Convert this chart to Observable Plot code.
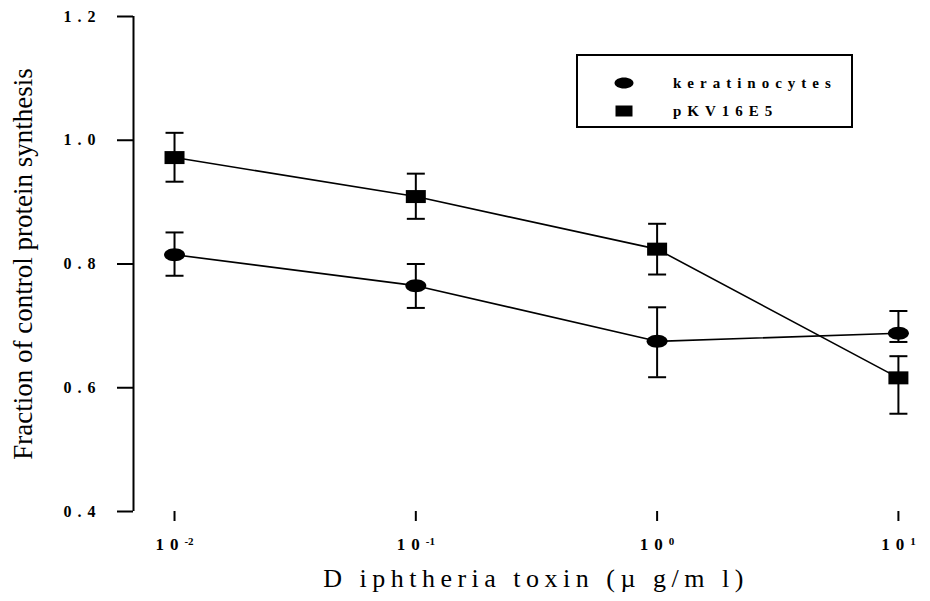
<!DOCTYPE html>
<html>
<head>
<meta charset="utf-8">
<script src="https://cdn.jsdelivr.net/npm/d3@7"></script>
<script src="https://cdn.jsdelivr.net/npm/@observablehq/plot@0.6"></script>
<style>
  html, body { margin: 0; padding: 0; background: #fff; }
  #chart { width: 930px; height: 601px; }
</style>
</head>
<body>
<div id="chart"></div>
<script>
// ---- data ----
const doses = [0.01, 0.1, 1, 10];               // Diphtheria toxin, µg/ml
const keratinocytes = [0.815, 0.765, 0.675, 0.688];
const keratinocytesLow = [0.781, 0.729, 0.617, 0.674];
const keratinocytesHigh = [0.851, 0.800, 0.730, 0.724];
const pKV16E5 = [0.972, 0.909, 0.824, 0.616];
const pKV16E5Low = [0.933, 0.873, 0.783, 0.558];
const pKV16E5High = [1.012, 0.946, 0.865, 0.651];
const seriesNames = ["keratinocytes", "pKV16E5"];
const yTicks = [0.4, 0.6, 0.8, 1.0, 1.2];
const xTicks = [0.01, 0.1, 1, 10];
const yTitle = "Fraction of control protein synthesis";
const xTitle = "D iphtheria toxin (\u00B5 g/m l)";

// ---- build table ----
const rows = [];
[[keratinocytes, keratinocytesLow, keratinocytesHigh], [pKV16E5, pKV16E5Low, pKV16E5High]]
  .forEach(([v, lo, hi], s) => doses.forEach((d, i) => rows.push({series: seriesNames[s], dose: d, value: v[i], low: lo[i], high: hi[i]})));

// ---- custom symbols ----
function ellipse(rx, ry) {
  return {draw(ctx) {
    const k = 0.5523;
    ctx.moveTo(rx, 0);
    ctx.bezierCurveTo(rx, ry * k, rx * k, ry, 0, ry);
    ctx.bezierCurveTo(-rx * k, ry, -rx, ry * k, -rx, 0);
    ctx.bezierCurveTo(-rx, -ry * k, -rx * k, -ry, 0, -ry);
    ctx.bezierCurveTo(rx * k, -ry, rx, -ry * k, rx, 0);
    ctx.closePath();
  }};
}
function rectSym(w, h) {
  return {draw(ctx) { ctx.rect(-w / 2, -h / 2, w, h); }};
}
const capSym = {draw(ctx) { ctx.moveTo(-9, 0); ctx.lineTo(9, 0); }};

const xDomain = [Math.pow(10, -2.17), Math.pow(10, 1.133)];

const plot = Plot.plot({
  width: 930,
  height: 601,
  marginLeft: 133,
  marginRight: 0,
  marginTop: 16,
  marginBottom: 90,
  style: {fontFamily: "'Liberation Serif', 'Times New Roman', serif", background: "#fff", color: "#000"},
  x: {type: "log", domain: xDomain},
  y: {domain: [0.4, 1.2]},
  marks: [
    Plot.axisY({ticks: yTicks, tickSize: 16, tickPadding: 16, tickFormat: d => d.toFixed(1),
      fontSize: 16, fontWeight: "bold", strokeWidth: 2, label: null}),
    Plot.axisX({ticks: xTicks, tickSize: 10, tickPadding: 16, tickFormat: d => String(Math.round(Math.log10(d))),
      fontSize: 17, fontWeight: "bold", strokeWidth: 2, label: null}),
    Plot.ruleX([xDomain[0]], {y1: 0.4, y2: 1.2, strokeWidth: 2}),
    Plot.ruleY([0.4], {x1: Math.pow(10, -2.15), strokeWidth: 2}),
    Plot.line(rows, {x: "dose", y: "value", z: "series", stroke: "#000", strokeWidth: 1.6}),
    Plot.ruleX(rows, {x: "dose", y1: "low", y2: "high", stroke: "#000", strokeWidth: 2}),
    Plot.dot(rows, {x: "dose", y: "low", symbol: capSym, stroke: "#000", strokeWidth: 2, fill: "none"}),
    Plot.dot(rows, {x: "dose", y: "high", symbol: capSym, stroke: "#000", strokeWidth: 2, fill: "none"}),
    Plot.dot(rows.filter(d => d.series === "keratinocytes"), {x: "dose", y: "value", symbol: ellipse(10.5, 6.5), fill: "#000", stroke: "none"}),
    Plot.dot(rows.filter(d => d.series === "pKV16E5"), {x: "dose", y: "value", symbol: rectSym(20, 13), fill: "#000", stroke: "none"})
  ]
});

document.getElementById("chart").appendChild(plot);
const svg = d3.select(plot);

// y tick labels letter-spacing
svg.selectAll('[aria-label="y-axis tick label"] text').attr("letter-spacing", "6px");

// x tick labels: 10 with superscript exponent
svg.selectAll('[aria-label="x-axis tick label"] text').each(function () {
  const t = d3.select(this);
  const exp = t.text();
  t.text("");
  t.append("tspan").attr("letter-spacing", "6px").text("10");
  t.append("tspan").attr("font-size", "11px").attr("dy", "-0.45em").text(exp);
});

// y-axis title
svg.append("text")
  .attr("transform", "translate(32,264) rotate(-90)")
  .attr("text-anchor", "middle")
  .attr("font-family", "'Liberation Serif', serif")
  .attr("font-size", 27)
  .attr("fill", "#000")
  .text(yTitle);

// x-axis title
svg.append("text")
  .attr("x", 536).attr("y", 587)
  .attr("text-anchor", "middle")
  .attr("font-family", "'Liberation Serif', serif")
  .attr("font-size", 26)
  .attr("letter-spacing", "5.5px")
  .attr("fill", "#000")
  .text(xTitle);

// legend
const lg = svg.append("g").attr("aria-label", "legend");
lg.append("rect").attr("x", 577).attr("y", 55).attr("width", 275).attr("height", 72)
  .attr("fill", "#fff").attr("stroke", "#000").attr("stroke-width", 2);
const legendItems = [
  {name: seriesNames[0], sym: ellipse(9.5, 5.5), cy: 83},
  {name: seriesNames[1], sym: rectSym(17, 11), cy: 111}
];
legendItems.forEach(it => {
  const p = d3.path(); it.sym.draw(p);
  lg.append("path").attr("d", p.toString()).attr("transform", `translate(624,${it.cy})`).attr("fill", "#000");
  lg.append("text").attr("x", 673).attr("y", it.cy + 5)
    .attr("text-anchor", "start")
    .attr("font-family", "'Liberation Serif', serif").attr("font-size", 15).attr("font-weight", "bold")
    .attr("letter-spacing", "6px").attr("fill", "#000").text(it.name);
});
</script>
</body>
</html>
